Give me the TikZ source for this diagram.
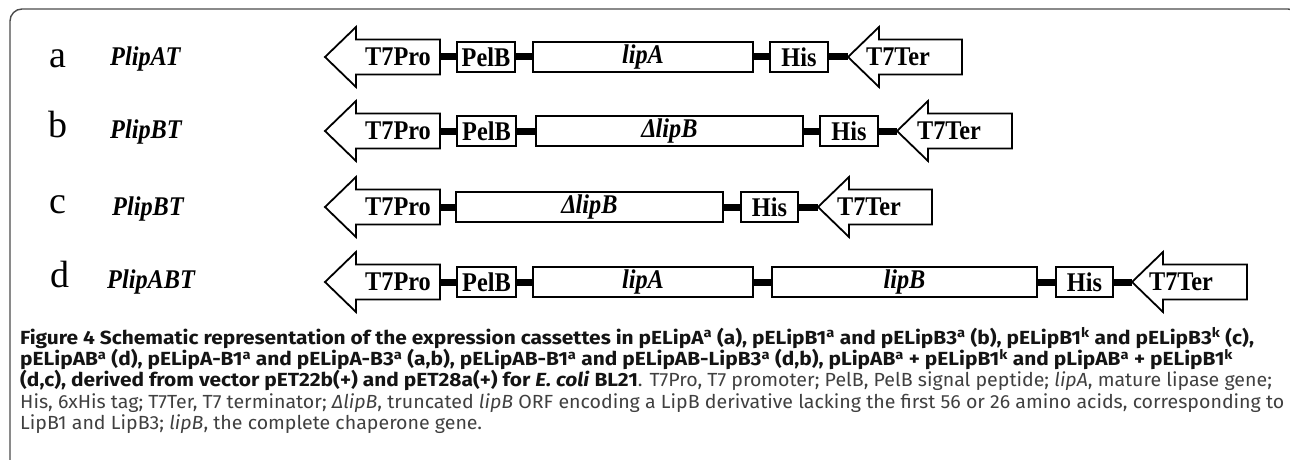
\documentclass[tikz,border=0pt]{standalone}
\usepackage{fontspec}
\newfontfamily\diagfont[FakeStretch=0.9]{Liberation Serif}
\newfontfamily\rowfont{Liberation Serif}
\newfontfamily\capfont[FakeStretch=1.03,
  BoldFeatures={FakeStretch=1.10},
  BoldItalicFeatures={FakeStretch=1.10}]{Fira Sans}
\definecolor{captext}{gray}{0.25}
\definecolor{capbold}{gray}{0.08}
\definecolor{framecol}{gray}{0.3}
\newcommand\sa{\textsuperscript{a}}
\newcommand\sk{\textsuperscript{k}}
\begin{document}
\begin{tikzpicture}[x=1pt,y=-1pt,
  gbox/.style={draw, line width=1.8pt, inner sep=0pt, outer sep=0pt, minimum height=30pt,
    font=\diagfont\bfseries\fontsize{27}{27}\selectfont},
  arrowbody/.style={draw, line width=1.8pt, fill=white, line join=miter},
  alabel/.style={inner sep=0pt, font=\diagfont\bfseries\fontsize{27}{27}\selectfont},
  link/.style={line width=7pt},
  rowletter/.style={anchor=base, inner sep=0pt, font=\rowfont\fontsize{38}{38}\selectfont},
  rowname/.style={anchor=base west, inner sep=0pt, font=\diagfont\bfseries\itshape\fontsize{27}{27}\selectfont},
  capline/.style={anchor=base west, inner sep=0pt, text=captext, font=\capfont\fontsize{19}{21}\selectfont}]
\useasboundingbox (0,0) rectangle (1290,460);
\clip (0,0) rectangle (1290,460);
% outer frame
\draw[framecol, line width=1.4pt, rounded corners=12pt] (10,500) -- (10,9) -- (1300,9) -- (1300,500);

% promoter arrow (points left): tip x, right end x, centre y, name, label x
\newcommand\leftarrowbox[5]{%
  \draw[arrowbody] (#1,#3) -- (#1+31,#3-30) -- (#1+31,#3-17.5) -- (#2,#3-17.5)
     -- (#2,#3+17.5) -- (#1+31,#3+17.5) -- (#1+31,#3+30) -- cycle;
  \coordinate (#4-w) at (#1,#3);
  \coordinate (#4-e) at (#2,#3);
  \node[alabel] (#4) at (#5,#3) {};}
\newcommand\genebox[5]{%
  \node[gbox, minimum width={#2-#1}] (#4) at ({(#1+#2)/2},#3) {#5};}

% ---------- row a ----------
\node[rowletter] (la) at (58,67) {a};
\node[rowname] (na) at (110,66) {PlipAT};
\leftarrowbox{325}{440}{57}{apro}{398}
\node[alabel] at (apro) {T7Pro};
\genebox{457}{515}{57}{apel}{PelB}
\genebox{533}{753}{57}{alipa}{\itshape lipA}
\genebox{770}{828}{57}{ahis}{His}
\leftarrowbox{848}{962}{57}{ater}{898}
\node[alabel] at (ater) {T7Ter};
\draw[link] (apro-e) -- (apel.west);
\draw[link] (apel.east) -- (alipa.west);
\draw[link] (alipa.east) -- (ahis.west);
\draw[link] (ahis.east) -- (ater-w);

% ---------- row b ----------
\node[rowletter] (lb) at (58,137) {b};
\node[rowname] (nb) at (110,138) {PlipBT};
\leftarrowbox{325}{440}{131}{bpro}{398}
\node[alabel] at (bpro) {T7Pro};
\genebox{457}{516}{131}{bpel}{PelB}
\genebox{536}{803}{131}{blipb}{\itshape Δ\kern-1pt lipB}
\genebox{820}{878}{131}{bhis}{His}
\leftarrowbox{897}{1012}{131}{bter}{949}
\node[alabel] at (bter) {T7Ter};
\draw[link] (bpro-e) -- (bpel.west);
\draw[link] (bpel.east) -- (blipb.west);
\draw[link] (blipb.east) -- (bhis.west);
\draw[link] (bhis.east) -- (bter-w);

% ---------- row c ----------
\node[rowletter] (lc) at (58,213) {c};
\node[rowname] (nc) at (112,215) {PlipBT};
\leftarrowbox{325}{440}{207}{cpro}{398}
\node[alabel] at (cpro) {T7Pro};
\genebox{456}{723}{207}{clipb}{\itshape Δ\kern-1pt lipB}
\genebox{741}{798}{207}{chis}{His}
\leftarrowbox{818}{932}{207}{cter}{869}
\node[alabel] at (cter) {T7Ter};
\draw[link] (cpro-e) -- (clipb.west);
\draw[link] (clipb.east) -- (chis.west);
\draw[link] (chis.east) -- (cter-w);

% ---------- row d ----------
\node[rowletter] (ld) at (60,287) {d};
\node[rowname] (nd) at (107,288) {PlipABT};
\leftarrowbox{325}{440}{282}{dpro}{398}
\node[alabel] at (dpro) {T7Pro};
\genebox{457}{516}{282}{dpel}{PelB}
\genebox{533}{753}{282}{dlipa}{\itshape lipA}
\genebox{772}{1037}{282}{dlipb}{\itshape lipB}
\genebox{1056}{1113}{282}{dhis}{His}
\leftarrowbox{1132}{1247}{282}{dter}{1181}
\node[alabel] at (dter) {T7Ter};
\draw[link] (dpro-e) -- (dpel.west);
\draw[link] (dpel.east) -- (dlipa.west);
\draw[link] (dlipa.east) -- (dlipb.west);
\draw[link] (dlipb.east) -- (dhis.west);
\draw[link] (dhis.east) -- (dter-w);

% ---------- caption ----------
\node[capline] (cap1) at (20,344) {\color{capbold}\bfseries Figure 4 Schematic representation of the expression cassettes in pELipA\sa{} (a), pELipB1\sa{} and pELipB3\sa{} (b), pELipB1\sk{} and pELipB3\sk{} (c),};
\node[capline] (cap2) at (20,365.3) {\color{capbold}\bfseries pELipAB\sa{} (d), pELipA-B1\sa{} and pELipA-B3\sa{} (a,b), pELipAB-B1\sa{} and pELipAB-LipB3\sa{} (d,b), pLipAB\sa{} + pELipB1\sk{} and pLipAB\sa{} + pELipB1\sk};
\node[capline] (cap3) at (20,386.6) {{\color{capbold}\bfseries (d,c), derived from vector pET22b(+) and pET28a(+) for \textit{E. coli} BL21}. T7Pro, T7 promoter; PelB, PelB signal peptide; \textit{lipA}, mature lipase gene;};
\node[capline] (cap4) at (20,408) {His, 6xHis tag; T7Ter, T7 terminator; \textit{ΔlipB}, truncated \textit{lipB} ORF encoding a LipB derivative lacking the first 56 or 26 amino acids, corresponding to};
\node[capline] (cap5) at (20,429.3) {LipB1 and LipB3; \textit{lipB}, the complete chaperone gene.};
\end{tikzpicture}
\end{document}
